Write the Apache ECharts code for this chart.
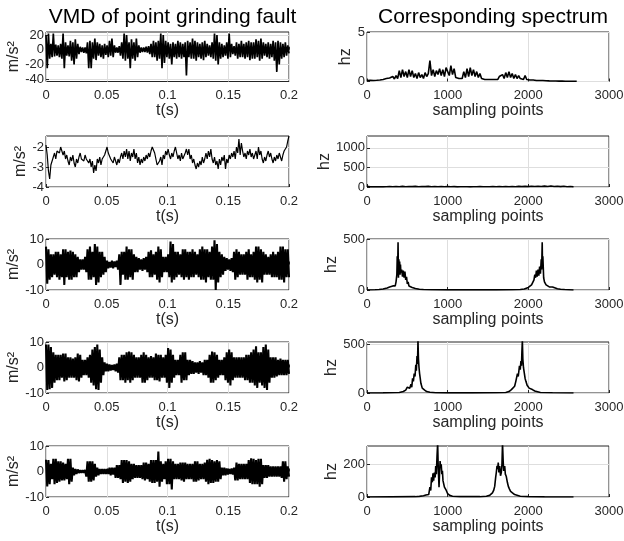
<!DOCTYPE html>
<html><head><meta charset="utf-8">
<script src="https://cdn.jsdelivr.net/npm/echarts@6/dist/echarts.min.js"></script>
<style>html,body{margin:0;padding:0;background:#fff}#c{width:624px;height:541px}</style>
</head><body><div id="c"></div>
<script>
// ---------- text ----------
const leftTitle = 'VMD of point grinding fault';
const rightTitle = 'Corresponding spectrum';
const leftXName = 't(s)';
const rightXName = 'sampling points';
const leftYName = 'm/s\u00B2';
const rightYName = 'hz';

// ---------- time-domain signals (0 .. 0.2 s, 200 samples) ----------
const sig1 = [
 20,-25,22,-12,8,-10,22,-9,7,-8,
 6,-10,8,-12,22,-25,10,-8,6,-9,
 12,-15,10,-20,14,-12,8,-6,4,-3,
 3,-4,3,-5,10,-25,12,-25,10,-12,
 15,-14,10,-8,8,-10,6,-12,8,-7,
 6,-10,12,-8,15,-10,6,-4,3,-4,
 5,-8,10,-12,22,-15,20,-12,10,-25,
 14,-12,10,-15,15,-10,6,-4,3,-3,
 3,-3,4,-4,5,-6,8,-10,12,-10,
 10,-15,12,-12,22,-25,20,-18,12,-10,
 10,-12,8,-20,10,-10,8,-12,12,-10,
 10,-12,8,-10,10,-35,12,-10,10,-12,
 15,-12,12,-15,10,-10,8,-12,10,-14,
 12,-10,8,-8,6,-10,10,-12,22,-15,
 20,-20,10,-12,8,-10,6,-8,10,-12,
 22,-10,8,-6,5,-8,10,-12,8,-10,
 12,-10,8,-12,10,-10,12,-14,10,-12,
 10,-12,14,-10,12,-15,15,-12,10,-8,
 8,-10,10,-12,8,-10,12,-15,10,-30,
 12,-20,10,-12,8,-10,10,-8,6,-5
];
const sig2 = [
 -1.9,-2.4,-3.2,-3.6,-2.9,-3.0,-2.5,-2.3,-2.6,-2.2,
 -2.1,-2.3,-2.0,-2.2,-2.4,-2.2,-2.6,-2.4,-2.7,-2.9,
 -2.5,-2.7,-2.4,-2.8,-3.0,-2.6,-2.8,-2.5,-2.3,-2.6,
 -2.5,-2.7,-2.4,-2.6,-2.5,-2.8,-2.6,-3.0,-2.7,-3.3,
 -2.9,-3.2,-2.6,-2.8,-2.5,-2.9,-2.6,-2.7,-2.4,-2.3,
 -2.0,-2.3,-2.2,-2.6,-2.5,-2.8,-2.5,-2.7,-2.9,-2.6,
 -2.8,-2.5,-2.3,-2.6,-2.2,-2.5,-2.1,-2.6,-2.2,-2.7,
 -2.3,-2.5,-2.1,-2.6,-2.3,-2.8,-2.5,-2.9,-2.6,-2.8,
 -2.5,-2.7,-2.4,-2.6,-2.3,-2.5,-2.2,-2.0,-1.9,-2.3,
 -2.6,-2.9,-3.0,-2.7,-2.5,-2.9,-2.4,-2.6,-2.2,-2.4,
 -2.1,-2.4,-2.6,-2.3,-2.5,-2.2,-2.0,-2.3,-2.6,-2.4,
 -2.7,-2.3,-2.6,-2.5,-2.3,-2.1,-2.4,-2.1,-2.6,-2.4,
 -2.8,-2.6,-2.9,-3.1,-2.8,-3.0,-2.7,-2.9,-2.5,-2.8,
 -2.6,-2.3,-2.6,-2.2,-2.5,-2.1,-2.6,-2.8,-2.5,-2.9,
 -2.7,-3.1,-2.6,-2.9,-2.5,-2.7,-2.4,-3.1,-2.6,-2.8,
 -2.4,-2.6,-2.3,-2.5,-2.2,-2.6,-2.0,-2.3,-1.6,-2.4,
 -1.8,-2.2,-2.5,-2.3,-2.6,-2.2,-2.4,-2.1,-2.5,-2.3,
 -2.6,-2.4,-2.2,-2.6,-2.0,-2.4,-2.2,-2.6,-2.8,-2.5,
 -2.7,-2.4,-2.2,-2.5,-2.3,-2.6,-2.8,-2.5,-2.7,-2.4,
 -2.6,-2.3,-2.5,-2.7,-2.4,-2.2,-2.3,-2.0,-1.7,-1.45
];
const sig3 = [
 7,-7.5,6,-6,4,-5,4,-4,5,-5,
 5,-6,4,-5,6,-8,6,-5,5,-6,
 5.5,-6,5,-5,4,-5,3,-3,2,-2,
 2,-2,3,-3,6,-6,7,-6,5,-5,
 8,-8,7,-7,5,-5,5,-4,3,-3,
 1.5,-1.5,1,-1.2,1.5,-1.5,1.2,-1,1.5,-2,
 4,-8,5,-4,5,-6,7,-6,6,-5,
 6,-6,4,-3,3,-3,2.5,-2,2,-2.5,
 2.5,-2,3,-3,5,-5,5.6,-5,4,-4,
 5,-6,7,-7,6,-5,3,-3,3,-3,
 4,-5,9,-7,8,-6,5,-5,5,-4,
 4,-5,6,-6,6,-5,5,-6,5,-5,
 6,-5,5,-4,4,-5,6,-6,7,-6,
 6,-7,6,-5,5,-6,7,-6,9.5,-10,
 8,-7,5,-5,4,-4,3,-2.5,2.5,-2,
 2,-2.5,2.5,-3,5,-6,6,-5,5,-4,
 4,-4,4,-4,5,-6,6,-5,4,-5,
 5,-6,7,-7,7,-6,6,-7,5,-4,
 4,-4,3,-4,4,-5,5,-5,4,-5,
 5,-6,7,-6,7,-7,6,-5,6,-5
];
const sig4 = [
 9,-8.8,9,-8.5,8,-8,6,-6,5,-5,
 5,-5,5,-4,5.5,-5.5,5.5,-5,4,-4,
 4,-4,3.5,-4,4,-5,5.5,-5.5,5,-4,
 3,-3,3,-3,4,-4,5,-6,7,-7,
 8,-8.5,9,-8.8,7,-6,4,-3,2,-1.5,
 1.5,-1.5,1.2,-1.2,1,-1,1.2,-1.5,1.5,-2,
 4,-5,5,-5,5,-6,6,-5,6.3,-6,
 6,-5,5,-4,4,-4,4,-4,5,-6,
 6,-6,5,-5,4,-4,4.5,-4,4,-5,
 5.5,-5,5,-5.5,5,-4,4,-4,5,-6,
 7.6,-8,7,-6,5,-4,3,-3,3,-3,
 5,-6,6,-5,6,-5,3,-3,3,-2.5,
 2.5,-2.5,2,-2,2,-2.5,2.5,-2,2,-3,
 3,-3,3,-4,5,-6,6.3,-6,6,-5,
 5,-4,3,-3,3,-3,4,-5,6,-6,
 7,-7,6,-5,4,-4,4,-4,4,-4,
 4,-4,4,-5,5,-5,5,-6,6,-6,
 7,-7,8.3,-8,6,-6,6,-7,8,-8,
 9,-8.8,7,-6,4,-4,4,-4,4,-3.5,
 3,-3,3.5,-3,3,-3,3,-3,3,-2.5
];
const sig5 = [
 4.6,-5.9,4.5,-5,3,-3,5,-5,5,-4.5,
 4,-4,4,-3.5,3.5,-3.5,3,-3,5,-5,
 5,-4,1.5,-1.5,1,-1,0.8,-0.6,0.5,-0.5,
 0.5,-0.5,0.6,-2,4,-4,4,-4,4,-3.5,
 3,-2,1.5,-1.5,1,-1,1,-1,1,-1,
 1,-1,1.5,-1.5,1.5,-1.2,1.5,-2.5,2.5,-2.5,
 2.5,-3,4.5,-4.5,4.5,-4,4.5,-4.5,4,-4,
 3,-3,3,-2.5,2.5,-2.5,2.5,-2.5,2.5,-3,
 3.5,-3.5,3.5,-3,3,-4,4.5,-4.5,4.5,-4.5,
 4.5,-4,7.8,-6,4,-4,3,-3,4,-5,
 5,-5,5,-7,4,-3,3,-3,3,-3,
 3.5,-3.5,3.5,-4,3.5,-3,3,-3,3,-3,
 3,-4,4,-4,4,-3.5,3,-3,3,-3,
 3.5,-4,4.6,-5,5,-4.5,4.5,-4.5,4,-4,
 4.5,-4,4,-3,1.5,-1.5,1.5,-1.5,1.2,-1.2,
 1,-1,1.2,-1.2,1.5,-3.5,3.5,-3.5,3,-3,
 3,-3,3,-3,3,-3,4.5,-4.5,5.2,-5,
 5,-5,4.5,-5,5,-6,5,-5,2.5,-2.5,
 2.5,-2.5,2.5,-2,2,-2,2,-2,2,-2,
 2,-2,2,-2.5,4,-4,4,-3,2,-2
];

// ---------- spectra ----------
// spec1: values every 20 sampling points starting at 0
const spec1 = [
 0.1,0.05,0.12,0.06,0.1,0.08,0.12,0.06,0.15,0.08,
 0.2,0.1,0.3,0.15,0.35,0.2,0.5,0.25,0.6,0.3,
 1.1,0.4,1.2,0.5,1.0,0.4,1.2,0.5,1.1,0.4,
 0.8,0.3,0.9,0.4,0.7,0.3,0.9,0.5,0.8,2.1,
 0.6,1.2,0.5,1.1,0.7,1.3,0.6,1.2,0.5,1.4,
 1.5,0.6,1.6,0.7,1.3,0.4,0.6,0.3,0.5,0.3,
 1.0,0.4,1.3,0.5,1.4,0.6,1.2,0.5,1.0,0.4,
 0.8,0.3,0.5,0.2,0.4,0.2,0.4,0.2,0.3,0.2,
 0.4,0.2,0.5,0.3,0.7,0.3,0.9,0.4,1.0,0.4,
 0.8,0.3,0.7,0.3,0.6,0.3,0.5,0.2,0.6,0.2,
 0.3,0.15,0.3,0.15,0.25,0.1,0.2,0.1,0.2,0.1,
 0.15,0.08,0.12,0.06,0.12,0.05,0.1,0.05,0.1,0.04,
 0.08,0.04,0.08,0.03,0.06,0.03,0.05,0.02,0.04,0.02,
 0.02
];
// spec2: values every 40 sampling points starting at 0
const spec2 = [
 15,4,8,3,6,3,8,12,6,14,
 8,15,6,12,10,16,7,13,9,15,
 8,14,7,12,6,10,5,9,4,8,
 5,8,4,7,5,9,6,8,5,10,
 6,10,7,12,8,13,7,15,9,16,
 10,18,12,20,14,22,12,24,13,20,
 10,18,8,12,3
];
const spec3 = [[0,0],[100,2],[150,5],[200,10],[250,20],[280,30],[300,25],[320,40],[340,50],[350,40],[360,80],[370,150],[375,330],[380,200],[385,467],[390,120],[395,300],[400,180],[405,280],[410,150],[415,250],[420,170],[430,200],[440,130],[450,190],[460,120],[470,180],[480,100],[490,130],[500,60],[510,80],[520,40],[540,50],[560,25],[580,30],[600,15],[650,8],[700,5],[800,2],[1000,1],[1200,1],[1400,1],[1600,1],[1800,2],[1900,5],[1950,10],[2000,25],[2020,30],[2040,50],[2060,40],[2070,100],[2080,150],[2090,120],[2100,190],[2110,130],[2120,200],[2130,140],[2140,230],[2150,160],[2160,300],[2165,200],[2172,467],[2176,220],[2180,330],[2190,120],[2200,80],[2220,50],[2240,40],[2260,30],[2280,25],[2300,30],[2320,15],[2360,12],[2400,8],[2450,5],[2500,3],[2560,0]];
const spec4 = [[0,0],[200,1],[400,5],[450,15],[480,30],[500,60],[510,40],[520,70],[530,50],[545,90],[555,60],[565,150],[575,120],[585,200],[595,170],[605,290],[612,230],[620,380],[626,300],[632,540],[638,350],[645,260],[652,200],[660,150],[668,100],[676,80],[685,50],[700,40],[715,30],[740,15],[780,8],[850,3],[1000,1],[1300,1],[1600,2],[1720,5],[1760,15],[1790,35],[1810,50],[1830,70],[1845,120],[1855,100],[1865,200],[1875,170],[1890,280],[1900,240],[1908,330],[1915,280],[1920,420],[1926,540],[1932,350],[1940,260],[1950,240],[1960,150],[1970,120],[1985,80],[1995,100],[2010,50],[2030,40],[2050,35],[2080,20],[2100,12],[2150,5],[2300,2],[2560,0]];
const spec5 = [[0,0],[300,1],[600,2],[650,4],[700,8],[730,12],[750,20],[765,15],[780,60],[790,40],[800,120],[810,90],[818,145],[826,100],[835,150],[845,120],[852,190],[860,140],[868,250],[876,330],[882,200],[888,120],[893,60],[900,150],[906,220],[912,180],[920,200],[928,140],[935,160],[942,100],[950,110],[960,60],[970,50],[983,40],[1000,20],[1025,10],[1060,5],[1150,2],[1400,2],[1480,5],[1520,10],[1540,15],[1555,25],[1570,40],[1583,65],[1595,120],[1603,150],[1612,190],[1620,170],[1627,210],[1635,150],[1645,190],[1655,130],[1665,150],[1673,200],[1680,330],[1688,220],[1695,160],[1707,190],[1715,140],[1727,125],[1740,90],[1752,65],[1765,50],[1780,35],[1800,25],[1830,15],[1851,10],[1900,5],[2000,2],[2200,1],[2560,0]];

// ---------- axis ranges and tick labels ----------
const leftYMin = [-43, -4, -10, -10, -10];
const leftYMax = [24, -1.45, 10, 10, 10];
const leftYTicks = [[-40,-20,0,20], [-4,-3,-2], [-10,0,10], [-10,0,10], [-10,0,10]];
const rightYMin = [0, 0, 0, 0, 0];
const rightYMax = [5, 1300, 500, 525, 312];
const rightYTicks = [[0,5], [0,500,1000], [0,500], [0,500], [0,200]];

// ---------- build ----------
const FONT = '"Liberation Sans", Arial, Helvetica, sans-serif';
const signals = [sig1, sig2, sig3, sig4, sig5];
const spectra = [
  spec1.map((v, i) => [i * 20, v]),
  spec2.map((v, i) => [i * 40, v]),
  spec3, spec4, spec5
];
const rowTop = [32, 136, 239, 342, 446];
const rowH = [49.5, 51, 51, 51, 51];
const hzGap = [12, 24, 24, 24, 24];
const sigWidth = [1.7, 1.2, 2.1, 2.1, 2.1];

const grid = [], xAxis = [], yAxis = [], series = [];
const gridStyle = {show: true, borderColor: '#262626', borderWidth: 1, backgroundColor: '#fff'};
const labelStyle = {color: '#262626', fontFamily: FONT, fontSize: 13};
const nameStyle = {color: '#262626', fontFamily: FONT, fontSize: 16};
const splitStyle = {show: true, lineStyle: {color: '#dedede', width: 1}};
const fmt = v => String(+(+v).toFixed(3));

for (let r = 0; r < 5; r++) {
  // left
  grid.push(Object.assign({left: 46, width: 243, top: rowTop[r], height: rowH[r], containLabel: false, outerBoundsMode: 'none'}, gridStyle));
  const gl = grid.length - 1;
  xAxis.push({
    type: 'value', gridIndex: gl, min: 0, max: 0.2, interval: 0.05,
    name: leftXName, nameLocation: 'middle', nameGap: 21, nameTextStyle: nameStyle,
    axisLine: {show: false}, axisTick: {show: true, inside: true, length: 3, lineStyle: {color: '#262626'}},
    axisLabel: Object.assign({margin: 7.5, formatter: fmt}, labelStyle),
    splitLine: splitStyle
  });
  yAxis.push({
    type: 'value', gridIndex: gl, min: leftYMin[r], max: leftYMax[r],
    name: leftYName, nameLocation: 'middle', nameGap: 16, nameTextStyle: nameStyle,
    axisLine: {show: false},
    axisTick: {show: true, inside: true, length: 3, lineStyle: {color: '#262626'}, customValues: leftYTicks[r]},
    axisLabel: Object.assign({margin: 2, customValues: leftYTicks[r], formatter: fmt}, labelStyle),
    splitLine: splitStyle
  });
  const dt = 0.2 / (signals[r].length - 1);
  series.push({
    type: 'line', xAxisIndex: gl, yAxisIndex: gl, showSymbol: false, silent: true,
    data: signals[r].map((v, i) => [i * dt, v]),
    lineStyle: {color: '#000', width: sigWidth[r]}, clip: true
  });
  // right
  grid.push(Object.assign({left: 367, width: 242, top: rowTop[r], height: rowH[r], containLabel: false, outerBoundsMode: 'none'}, gridStyle));
  const gr = grid.length - 1;
  xAxis.push({
    type: 'value', gridIndex: gr, min: 0, max: 3000, interval: 1000,
    name: rightXName, nameLocation: 'middle', nameGap: 21, nameTextStyle: nameStyle,
    axisLine: {show: false}, axisTick: {show: true, inside: true, length: 3, lineStyle: {color: '#262626'}},
    axisLabel: Object.assign({margin: 7.5, formatter: fmt}, labelStyle),
    splitLine: splitStyle
  });
  yAxis.push({
    type: 'value', gridIndex: gr, min: rightYMin[r], max: rightYMax[r],
    name: rightYName, nameLocation: 'middle', nameGap: hzGap[r], nameTextStyle: nameStyle,
    axisLine: {show: false},
    axisTick: {show: true, inside: true, length: 3, lineStyle: {color: '#262626'}, customValues: rightYTicks[r]},
    axisLabel: Object.assign({margin: 2, customValues: rightYTicks[r], formatter: fmt}, labelStyle),
    splitLine: splitStyle
  });
  series.push({
    type: 'line', xAxisIndex: gr, yAxisIndex: gr, showSymbol: false, silent: true,
    data: spectra[r],
    lineStyle: {color: '#000', width: 1.6}, clip: true
  });
}

const chart = echarts.init(document.getElementById('c'), null, {renderer: 'canvas'});
chart.setOption({
  animation: false,
  backgroundColor: '#fff',
  title: [
    {text: leftTitle, left: 167.5, top: 2, textAlign: 'center', textStyle: {fontFamily: FONT, fontSize: 21, fontWeight: 'normal', color: '#000'}},
    {text: rightTitle, left: 488, top: 2, textAlign: 'center', textStyle: {fontFamily: FONT, fontSize: 21, fontWeight: 'normal', color: '#000'}}
  ],
  grid, xAxis, yAxis, series
});
</script></body></html>
